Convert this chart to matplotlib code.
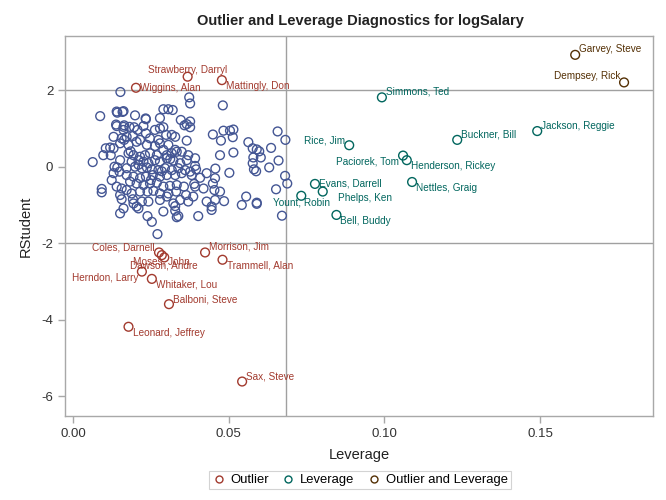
"""
Outlier and leverage diagnostics (RStudent vs. leverage) for logSalary,
redrawn in the SAS HTMLBlue look.
"""
import matplotlib

matplotlib.use("Agg")
import matplotlib.pyplot as plt
from matplotlib.lines import Line2D

plt.rcParams["font.family"] = ["Liberation Sans", "DejaVu Sans"]
plt.rcParams["axes.unicode_minus"] = False

# ordinary observations (leverage, rstudent)
lev_plain = [
    0.0152, 0.0373, 0.0376, 0.0481, 0.0087, 0.0142, 0.0159, 0.0199, 0.0234, 0.0290,
    0.0306, 0.0320, 0.0279, 0.0346, 0.0376, 0.0358, 0.0376, 0.0365, 0.0138, 0.0164,
    0.0181, 0.0226, 0.0196, 0.0207, 0.0192, 0.0162, 0.0172, 0.0156, 0.0164, 0.0130,
    0.0151, 0.0178, 0.0204, 0.0215, 0.0234, 0.0263, 0.0279, 0.0290, 0.0247, 0.0274,
    0.0299, 0.0317, 0.0328, 0.0237, 0.0263, 0.0279, 0.0306, 0.0328, 0.0365, 0.0449,
    0.0483, 0.0504, 0.0515, 0.0513, 0.0475, 0.0563, 0.0577, 0.0590, 0.0598, 0.0603,
    0.0579, 0.0577, 0.0581, 0.0588, 0.0636, 0.0657, 0.0682, 0.0660, 0.0630, 0.0681,
    0.0688, 0.0652, 0.0515, 0.0472, 0.0502, 0.0457, 0.0105, 0.0119, 0.0130, 0.0097,
    0.0121, 0.0063, 0.0151, 0.0133, 0.0142, 0.0149, 0.0130, 0.0124, 0.0140, 0.0156,
    0.0151, 0.0092, 0.0092, 0.0178, 0.0194, 0.0215, 0.0231, 0.0247, 0.0269, 0.0290,
    0.0301, 0.0317, 0.0333, 0.0349, 0.0370, 0.0188, 0.0210, 0.0226, 0.0242, 0.0263,
    0.0279, 0.0301, 0.0322, 0.0344, 0.0365, 0.0392, 0.0172, 0.0199, 0.0221, 0.0237,
    0.0253, 0.0274, 0.0295, 0.0317, 0.0338, 0.0360, 0.0376, 0.0392, 0.0395, 0.0172,
    0.0194, 0.0215, 0.0234, 0.0256, 0.0279, 0.0301, 0.0328, 0.0349, 0.0381, 0.0408,
    0.0429, 0.0456, 0.0183, 0.0204, 0.0226, 0.0247, 0.0269, 0.0290, 0.0311, 0.0333,
    0.0356, 0.0389, 0.0392, 0.0419, 0.0449, 0.0454, 0.0472, 0.0172, 0.0188, 0.0215,
    0.0239, 0.0258, 0.0279, 0.0306, 0.0331, 0.0363, 0.0386, 0.0156, 0.0192, 0.0194,
    0.0204, 0.0221, 0.0242, 0.0279, 0.0301, 0.0322, 0.0328, 0.0344, 0.0370, 0.0429,
    0.0445, 0.0445, 0.0456, 0.0485, 0.0542, 0.0556, 0.0590, 0.0590, 0.0671, 0.0151,
    0.0162, 0.0210, 0.0239, 0.0253, 0.0290, 0.0328, 0.0333, 0.0338, 0.0402, 0.0271,
    0.0140, 0.0162, 0.0233, 0.0140, 0.0162, 0.0185, 0.0210, 0.0250, 0.0285, 0.0312,
]
rst_plain = [
    1.95, 1.81, 1.65, 1.60, 1.32, 1.41, 1.43, 1.34, 1.24, 1.50,
    1.50, 1.48, 1.27, 1.22, 1.18, 1.08, 1.03, 1.11, 1.10, 1.08,
    1.04, 1.06, 1.03, 0.96, 0.80, 0.96, 0.78, 0.74, 0.70, 0.78,
    0.61, 0.57, 0.65, 0.70, 0.87, 0.96, 1.00, 1.03, 0.74, 0.70,
    0.83, 0.83, 0.78, 0.57, 0.54, 0.61, 0.57, 0.44, 0.68, 0.84,
    0.94, 0.94, 0.97, 0.77, 0.68, 0.64, 0.48, 0.45, 0.40, 0.24,
    0.24, 0.09, -0.07, -0.12, 0.49, 0.92, 0.70, 0.16, -0.02, -0.24,
    -0.44, -0.59, 0.37, 0.30, -0.16, -0.05, 0.48, 0.50, 0.48, 0.30,
    0.30, 0.12, 0.17, 0.00, -0.02, -0.13, -0.17, -0.35, -0.52, -0.57,
    -0.74, -0.58, -0.67, 0.35, 0.30, 0.26, 0.30, 0.35, 0.30, 0.44,
    0.30, 0.35, 0.39, 0.39, 0.30, 0.13, 0.17, 0.13, 0.09, 0.17,
    0.13, 0.22, 0.16, 0.09, 0.17, 0.22, -0.04, 0.00, -0.04, -0.02,
    -0.07, -0.09, -0.04, -0.09, -0.04, -0.09, -0.13, 0.02, -0.07, -0.22,
    -0.26, -0.30, -0.26, -0.22, -0.26, -0.22, -0.22, -0.17, -0.22, -0.29,
    -0.17, -0.30, -0.39, -0.44, -0.48, -0.44, -0.42, -0.52, -0.50, -0.48,
    -0.52, -0.45, -0.52, -0.57, -0.44, -0.61, -0.65, -0.61, -0.70, -0.65,
    -0.65, -0.63, -0.70, -0.70, -0.65, -0.74, -0.78, -0.85, -0.85, -0.96,
    -1.04, -0.91, -0.91, -0.87, -0.78, -0.96, -1.03, -0.87, -0.91, -0.91,
    -1.04, -1.13, -0.87, -0.90, -1.00, -0.78, -0.94, -0.97, -1.28, -1.22,
    -1.09, -1.09, -1.29, -1.44, -1.17, -1.15, -1.32, -1.29, -1.29, -1.76,
    1.44, 1.45, 1.26, 1.06, 1.04, 0.40, 0.05, -0.35, -0.12, 0.20,
]

# labelled observations
outlier_names = [
    "Strawberry, Darryl", "Wiggins, Alan", "Mattingly, Don", "Coles, Darnell",
    "Moses, John", "Dawson, Andre", "Herndon, Larry", "Whitaker, Lou",
    "Balboni, Steve", "Leonard, Jeffrey", "Morrison, Jim", "Trammell, Alan",
    "Sax, Steve",
]
outlier_lev = [0.0368, 0.0202, 0.0478, 0.0276, 0.0285, 0.0293, 0.0221, 0.0253,
               0.0308, 0.0178, 0.0424, 0.0480, 0.0543]
outlier_rst = [2.35, 2.06, 2.26, -2.24, -2.31, -2.37, -2.74, -2.93,
               -3.59, -4.18, -2.24, -2.43, -5.61]

leverage_names = [
    "Simmons, Ted", "Rice, Jim", "Buckner, Bill", "Jackson, Reggie",
    "Paciorek, Tom", "Henderson, Rickey", "Nettles, Graig", "Evans, Darrell",
    "Phelps, Ken", "Yount, Robin", "Bell, Buddy",
]
leverage_lev = [0.0992, 0.0887, 0.1234, 0.1491, 0.1060, 0.1072, 0.1089, 0.0777,
                0.0802, 0.0733, 0.0846]
leverage_rst = [1.81, 0.56, 0.70, 0.93, 0.29, 0.17, -0.40, -0.45,
                -0.65, -0.76, -1.26]

both_names = ["Garvey, Steve", "Dempsey, Rick"]
both_lev = [0.1613, 0.1770]
both_rst = [2.92, 2.20]

LEV_CUTOFF = 0.0684
RST_CUTOFF = 2.0

# label placement (dx, dy in pixels, ha) per name
LABEL_POS = {
    "Strawberry, Darryl": (0, 7, "center"),
    "Wiggins, Alan": (4, 0, "left"),
    "Mattingly, Don": (4, -6, "left"),
    "Coles, Darnell": (-4, 5, "right"),
    "Moses, John": (0, -6, "center"),
    "Dawson, Andre": (0, -8, "center"),
    "Herndon, Larry": (-4, -6, "right"),
    "Whitaker, Lou": (4, -6, "left"),
    "Balboni, Steve": (4, 5, "left"),
    "Leonard, Jeffrey": (4, -6, "left"),
    "Morrison, Jim": (4, 6, "left"),
    "Trammell, Alan": (4, -6, "left"),
    "Sax, Steve": (4, 5, "left"),
    "Simmons, Ted": (4, 6, "left"),
    "Rice, Jim": (-4, 5, "right"),
    "Buckner, Bill": (4, 5, "left"),
    "Jackson, Reggie": (4, 5, "left"),
    "Paciorek, Tom": (-4, -6, "right"),
    "Henderson, Rickey": (4, -6, "left"),
    "Nettles, Graig": (4, -6, "left"),
    "Evans, Darrell": (4, 0, "left"),
    "Phelps, Ken": (15, -6, "left"),
    "Yount, Robin": (0, -7, "center"),
    "Bell, Buddy": (4, -6, "left"),
    "Garvey, Steve": (4, 6, "left"),
    "Dempsey, Rick": (-4, 6, "right"),
}

C_PLAIN = "#445694"
C_OUT = "#A23A2E"
C_LEV = "#01665E"
C_BOTH = "#543005"
C_REF = "#A0A0A0"
C_FRAME = "#A8A8A8"


def draw_group(ax, xs, ys, names, color):
    ax.scatter(xs, ys, s=40, facecolors="none", edgecolors=color, linewidths=1.0, zorder=3)
    for x, y, name in zip(xs, ys, names):
        dx, dy, ha = LABEL_POS[name]
        ax.annotate(name, (x, y), xytext=(dx, dy), textcoords="offset pixels",
                    ha=ha, va="center", fontsize=7.2, color=color, zorder=4)


fig = plt.figure(figsize=(6.66, 5.0), dpi=100, facecolor="white")
ax = fig.add_axes([0.0976, 0.168, 0.8829, 0.7606])

ax.axhline(RST_CUTOFF, color=C_REF, linewidth=1.0, zorder=1)
ax.axhline(-RST_CUTOFF, color=C_REF, linewidth=1.0, zorder=1)
ax.axvline(LEV_CUTOFF, color=C_REF, linewidth=1.0, zorder=1)

ax.scatter(lev_plain, rst_plain, s=40, facecolors="none", edgecolors=C_PLAIN,
           linewidths=1.0, zorder=3)
draw_group(ax, outlier_lev, outlier_rst, outlier_names, C_OUT)
draw_group(ax, leverage_lev, leverage_rst, leverage_names, C_LEV)
draw_group(ax, both_lev, both_rst, both_names, C_BOTH)

ax.set_xlim(-0.0026, 0.1863)
ax.set_ylim(-6.51, 3.42)
ax.set_xticks([0.0, 0.05, 0.10, 0.15])
ax.set_xticklabels(["0.00", "0.05", "0.10", "0.15"])
ax.set_yticks([2, 0, -2, -4, -6])
ax.tick_params(axis="both", direction="out", length=5, width=1.0, color=C_FRAME,
               labelsize=9.5, labelcolor="#333333")
for sp in ax.spines.values():
    sp.set_color(C_FRAME)
    sp.set_linewidth(1.0)

ax.set_xlabel("Leverage", fontsize=10.5, color="#222222", labelpad=6)
ax.set_ylabel("RStudent", fontsize=10.5, color="#222222", labelpad=6)
fig.text(0.5405, 0.958, "Outlier and Leverage Diagnostics for logSalary",
         ha="center", va="center", fontsize=10.5, fontweight="bold", color="#222222")

handles = [
    Line2D([], [], linestyle="none", marker="o", markersize=5, markerfacecolor="none",
           markeredgecolor=c, markeredgewidth=1.0, label=lab)
    for c, lab in [(C_OUT, "Outlier"), (C_LEV, "Leverage"), (C_BOTH, "Outlier and Leverage")]
]
leg = fig.legend(handles=handles, loc="center", bbox_to_anchor=(0.5405, 0.04), ncol=3,
                 fontsize=9.4, frameon=True, fancybox=False, handlelength=1.0,
                 handletextpad=0.4, columnspacing=1.0, borderpad=0.25)
leg.get_frame().set_edgecolor("#C8C8C8")
leg.get_frame().set_linewidth(0.8)

fig.savefig("out.png", dpi=100, facecolor="white")
